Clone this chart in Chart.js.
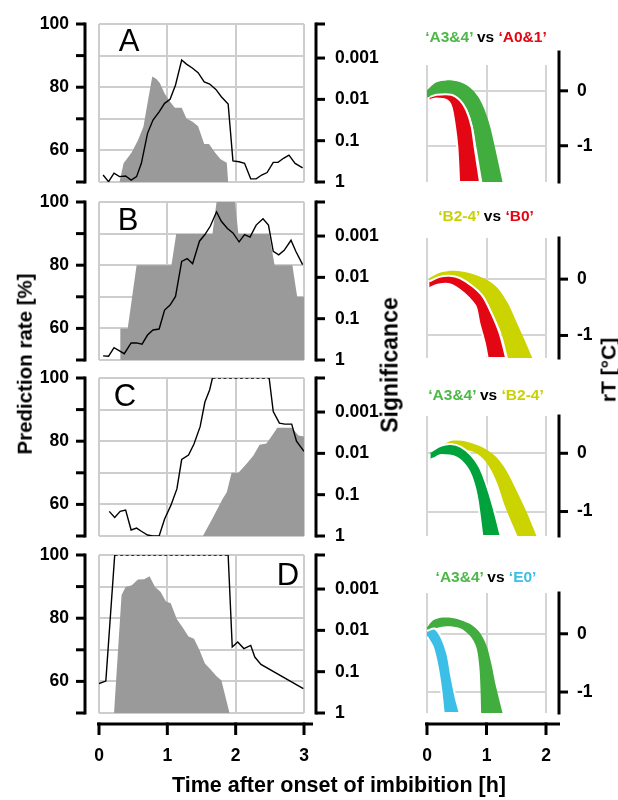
<!DOCTYPE html>
<html><head><meta charset="utf-8">
<script src="https://cdn.jsdelivr.net/npm/chart.js@4.4.1/dist/chart.umd.min.js"></script>
<style>
html,body{margin:0;padding:0;background:#fff;}
body{width:618px;height:800px;position:relative;overflow:hidden;font-family:'Liberation Sans',Arial,Helvetica,sans-serif;}
canvas{position:absolute;}
.t{position:absolute;white-space:nowrap;line-height:1;font-weight:bold;color:#000;transform:translate(-50%,-50%);}
.r{transform:translate(-50%,-50%) rotate(-90deg);}
.l{font-weight:normal;}
</style></head><body>
<script>
// ---------------- DATA ----------------
// Prediction rate [%] (black lines), time in h
const timeA = [0.06,0.14,0.22,0.30,0.39,0.47,0.55,0.62,0.71,0.79,0.88,0.96,1.04,1.12,1.21,1.28,1.37,1.45,1.54,1.62,1.71,1.79,1.89,1.96,2.05,2.13,2.22,2.30,2.38,2.46,2.55,2.62,2.70,2.78,2.87,2.98];
const rateA = [52.2,50.1,52.8,51.7,51.9,50.6,51.7,55.9,65.4,69.6,72.2,74.9,76.2,80.7,88.6,87.3,86.0,84.6,81.7,81.0,79.3,77.0,74.7,56.7,56.4,55.9,51.0,51.0,52.2,53.0,56.2,56.2,57.5,58.5,55.9,54.5];
const timeB = [0.06,0.14,0.22,0.30,0.37,0.47,0.55,0.63,0.71,0.79,0.88,0.96,1.04,1.12,1.21,1.29,1.37,1.47,1.55,1.63,1.72,1.79,1.88,1.96,2.05,2.13,2.21,2.30,2.40,2.48,2.55,2.63,2.71,2.81,2.88,2.98];
const rateB = [51.3,51.2,53.9,52.9,52.0,55.4,55.4,55.0,57.9,59.5,59.8,65.8,67.4,70.1,81.2,82.1,80.5,87.6,89.7,92.4,96.9,93.9,91.6,90.2,87.4,89.7,88.9,92.7,94.7,92.7,84.4,83.3,84.7,87.9,84.4,80.2];
const timeC = [0.15,0.23,0.31,0.39,0.47,0.55,0.62,0.71,0.79,0.88,0.96,1.05,1.14,1.21,1.31,1.39,1.48,1.55,1.62,1.66,2.49,2.55,2.64,2.72,2.82,2.89,3.00];
const rateC = [57.8,55.9,57.8,58.2,51.9,52.5,51.5,50.3,50,50,55.4,59.6,64.9,74.2,75.6,79.1,84.6,92.4,96.3,100,100,89.4,85.7,85.4,85.4,80.0,76.8];
const timeD = [0.00,0.10,0.23,1.89,1.95,2.03,2.12,2.22,2.28,2.37,2.99];
const rateD = [59.3,60.1,100,100,70.9,72.5,70.4,71.4,67.7,65.4,57.7];

// Significance (p-values, grey areas)
const sigTimeA = [0.30,0.36,0.48,0.57,0.65,0.72,0.78,0.84,0.89,0.96,1.04,1.11,1.21,1.28,1.37,1.45,1.54,1.61,1.70,1.78,1.87,1.89];
const sigA     = [1,0.35,0.19,0.098,0.046,0.010,0.0028,0.0032,0.004,0.0072,0.0115,0.016,0.016,0.029,0.035,0.045,0.12,0.12,0.195,0.28,0.34,1];
const sigTimeB = [0.31,0.31,0.42,0.55,1.06,1.13,1.66,1.72,1.99,2.04,2.49,2.57,2.83,2.90,3.00];
const sigB     = [1,0.174,0.174,0.0051,0.0051,0.00089,0.00089,0.00015,0.00015,0.00089,0.00089,0.0051,0.0051,0.0295,0.0295];
const sigTimeC = [1.52,1.67,1.81,1.87,1.94,2.04,2.16,2.26,2.35,2.45,2.50,2.61,2.82,2.92,3.00];
const sigC     = [1,0.35,0.126,0.087,0.0295,0.0295,0.0178,0.0112,0.0062,0.0058,0.0044,0.0024,0.0024,0.0037,0.0039];
const sigTimeD = [0.22,0.33,0.39,0.48,0.57,0.66,0.74,0.82,0.90,0.98,1.05,1.14,1.22,1.31,1.39,1.47,1.55,1.64,1.72,1.79,1.91];
const sigD     = [1,0.0014,0.00089,0.00081,0.00059,0.00058,0.00049,0.00089,0.00117,0.0020,0.0022,0.0054,0.0083,0.014,0.016,0.030,0.063,0.091,0.129,0.162,1];

// Tick values / labels
const timeTicks = [0,1,2,3];
const rateTicks = [50,60,70,80,90,100];
const rateLabelled = [60,80,100];
const sigTicks = [1,0.1,0.01,0.001];
const sigTickLabels = ['1','0.1','0.01','0.001'];
const rtTicks = [0,-1];
const rtTickLabels = ['0','-1'];
const rtTimeTicks = [0,1,2];

// rT [°C] bands (outline of each band: [time h, rT])
const bandA_A34 = [[0,0.01],[0.15,0.15],[0.33,0.19],[0.55,0.16],[0.72,0.06],[0.86,-0.11],[0.97,-0.35],[1.06,-0.65],[1.14,-1.02],[1.27,-1.66],[0.93,-1.66],[0.83,-1.02],[0.77,-0.65],[0.68,-0.35],[0.57,-0.17],[0.41,-0.07],[0.16,-0.07],[0,-0.12]];
const bandA_A01 = [[0.05,-0.11],[0.16,-0.07],[0.41,-0.07],[0.55,-0.17],[0.66,-0.35],[0.75,-0.65],[0.80,-1.02],[0.89,-1.66],[0.54,-1.66],[0.51,-1.02],[0.47,-0.65],[0.41,-0.29],[0.33,-0.17],[0.16,-0.14],[0.04,-0.17]];
const bandB_B24 = [[0.04,0.02],[0.24,0.12],[0.46,0.15],[0.71,0.11],[0.99,0.0],[1.19,-0.16],[1.36,-0.43],[1.50,-0.75],[1.64,-1.08],[1.77,-1.40],[1.36,-1.40],[1.25,-0.96],[1.10,-0.60],[0.96,-0.31],[0.79,-0.13],[0.56,0.02],[0.38,0.06],[0.21,0.04],[0.04,-0.04]];
const bandB_B0  = [[0.04,-0.04],[0.21,0.04],[0.38,0.06],[0.55,0.02],[0.77,-0.13],[0.94,-0.31],[1.08,-0.60],[1.22,-0.96],[1.33,-1.40],[1.02,-1.40],[0.97,-1.13],[0.88,-0.78],[0.82,-0.49],[0.71,-0.34],[0.55,-0.19],[0.38,-0.09],[0.18,-0.10],[0.04,-0.16]];
const bandC_B24 = [[0.22,0.11],[0.40,0.21],[0.66,0.20],[0.94,0.10],[1.16,-0.06],[1.33,-0.29],[1.50,-0.63],[1.67,-1.0],[1.84,-1.42],[1.52,-1.42],[1.31,-0.91],[1.19,-0.54],[1.08,-0.29],[0.94,-0.09],[0.77,0.03],[0.57,0.05],[0.22,0.02]];
const bandC_A34 = [[0.06,0.03],[0.23,0.13],[0.40,0.16],[0.57,0.11],[0.74,-0.03],[0.88,-0.23],[0.99,-0.51],[1.11,-0.91],[1.24,-1.42],[0.93,-1.42],[0.85,-0.80],[0.77,-0.46],[0.66,-0.23],[0.49,-0.07],[0.23,-0.03],[0.15,-0.07],[0.06,-0.11]];
const bandD_A34 = [[0,0.11],[0.10,0.23],[0.27,0.28],[0.49,0.26],[0.72,0.17],[0.88,0.03],[1.00,-0.20],[1.08,-0.51],[1.16,-0.91],[1.27,-1.36],[0.91,-1.36],[0.90,-0.97],[0.88,-0.57],[0.83,-0.23],[0.72,-0.03],[0.55,0.10],[0.33,0.13],[0.13,0.09],[0,0.03]];
const bandD_E0  = [[0,0.05],[0.13,0.09],[0.24,-0.06],[0.34,-0.34],[0.41,-0.74],[0.48,-1.09],[0.55,-1.36],[0.28,-1.36],[0.24,-0.97],[0.18,-0.57],[0.10,-0.23],[0,-0.05]];

const panelLetters = ['A','B','C','D'];
const comparisons = [
  [['‘A3&4’','#4db848'],[' vs ','#000'],['‘A0&1’','#e30613']],
  [['‘B2-4’','#c9d200'],[' vs ','#000'],['‘B0’','#e30613']],
  [['‘A3&4’','#4db848'],[' vs ','#000'],['‘B2-4’','#c9d200']],
  [['‘A3&4’','#4db848'],[' vs ','#000'],['‘E0’','#3cbfe6']]
];

// ---------------- RENDERING ----------------
const FONT = "'Liberation Sans', Arial, Helvetica, sans-serif";
Chart.defaults.font.family = FONT;
Chart.defaults.font.weight = 'bold';
Chart.defaults.font.size = 17.5;
Chart.defaults.color = '#000';
Chart.defaults.animation = false;

const zip = (xs, ys) => xs.map((x, i) => ({x: x, y: ys[i]}));
// band outline -> points; vertices lying on the panel's lower edge are doubled so the smoothed outline keeps a sharp cut there
const bandPts = (arr, minY) => arr.flatMap(p => {
  const o = {x: p[0], y: p[1]};
  return p[1] <= minY + 1e-9 ? [o, {x: p[0], y: p[1]}] : [o];
});
function noPad(s) { s.paddingTop = 0; s.paddingBottom = 0; s.paddingLeft = 0; s.paddingRight = 0; }

const spinePlugin = {
  id: 'spines',
  afterDraw(chart, args, opts) {
    const ctx = chart.ctx, ca = chart.chartArea;
    ctx.save();
    ctx.strokeStyle = '#000';
    ctx.lineWidth = 3;
    ctx.lineCap = 'butt';
    ctx.lineJoin = 'miter';
    (opts.list || []).forEach(s => {
      const sc = chart.scales[s.id];
      const tp = sc.ticks.map(t => sc.getPixelForValue(t.value));
      if (s.side === 'left' || s.side === 'right') {
        const dir = s.side === 'left' ? -1 : 1;
        const x = s.side === 'left' ? ca.left - s.offset : ca.right + s.offset;
        const y0 = ca.top - (s.extendTop || 0) - 1.5, y1 = ca.bottom + 1.5;
        ctx.beginPath(); ctx.moveTo(x, y0); ctx.lineTo(x, y1); ctx.stroke();
        const ys = tp.slice();
        if (s.bracketTop) ys.push(ca.top);
        ys.forEach(y => { ctx.beginPath(); ctx.moveTo(x, y); ctx.lineTo(x + dir * s.len, y); ctx.stroke(); });
      } else {
        const y = ca.bottom + s.offset;
        const x0 = sc.getPixelForValue(sc.min) - s.extL, x1 = sc.getPixelForValue(sc.max) + s.extR;
        ctx.beginPath(); ctx.moveTo(x0, y); ctx.lineTo(x1, y); ctx.stroke();
        tp.forEach(x => { ctx.beginPath(); ctx.moveTo(x, y - 1.5); ctx.lineTo(x, y + s.len); ctx.stroke(); });
      }
    });
    ctx.restore();
  }
};
Chart.register(spinePlugin);

function addCanvas(left, top, w, h) {
  const c = document.createElement('canvas');
  c.width = w; c.height = h;
  c.style.left = left + 'px'; c.style.top = top + 'px';
  c.style.width = w + 'px'; c.style.height = h + 'px';
  document.body.appendChild(c);
  return c;
}

const leftPanels = [
  {top: 24,  t: timeA, rate: rateA, st: sigTimeA, sp: sigA},
  {top: 202, t: timeB, rate: rateB, st: sigTimeB, sp: sigB},
  {top: 378, t: timeC, rate: rateC, st: sigTimeC, sp: sigC},
  {top: 555, t: timeD, rate: rateD, st: sigTimeD, sp: sigD, showX: true}
];
const PH = 158;
leftPanels.forEach(p => {
  const padTop = 12, padBot = p.showX ? 0 : 12, xH = p.showX ? 62 : 0;
  const cv = addCanvas(0, p.top - padTop, 380, padTop + PH + padBot + xH);
  const spines = [
    {id: 'y', side: 'left', offset: 14, len: 9},
    {id: 'y1', side: 'right', offset: 12, len: 9, bracketTop: true}
  ];
  if (p.showX) spines.push({id: 'x', side: 'bottom', offset: 11, len: 11, extL: 2, extR: 9});
  new Chart(cv, {
    type: 'line',
    data: {datasets: [
      {data: zip(p.t, p.rate), yAxisID: 'y', borderColor: '#000', borderWidth: 1.4, pointRadius: 0, tension: 0, fill: false,
       segment: {borderDash: c => (c.p0.parsed.y >= 100 && c.p1.parsed.y >= 100) ? [3, 2.5] : undefined}},
      {data: zip(p.st, p.sp), yAxisID: 'y1', backgroundColor: '#9a9a9a', borderColor: 'rgba(0,0,0,0)', borderWidth: 0.01,
       pointRadius: 0, tension: 0, fill: {value: 1}}
    ]},
    options: {
      responsive: false, animation: false, events: [],
      layout: {autoPadding: false, padding: {top: padTop, bottom: padBot, left: 0, right: 0}},
      plugins: {legend: {display: false}, tooltip: {enabled: false}, spines: {list: spines}},
      scales: {
        x: {type: 'linear', min: 0, max: 3, position: 'bottom',
            afterBuildTicks: s => { s.ticks = timeTicks.map(v => ({value: v})); },
            ticks: {display: !!p.showX, padding: 33, maxRotation: 0, autoSkip: false},
            grid: {color: '#cdcdcd', lineWidth: 2, drawTicks: false},
            border: {display: false},
            afterFit: s => { s.height = xH; noPad(s); }},
        y: {type: 'linear', position: 'left', min: 50, max: 100,
            afterBuildTicks: s => { s.ticks = rateTicks.map(v => ({value: v})); },
            ticks: {padding: 30, autoSkip: false, callback: v => rateLabelled.includes(v) ? String(v) : ''},
            grid: {color: '#cdcdcd', lineWidth: 2, drawTicks: false},
            border: {display: false},
            afterFit: s => { s.width = 99; noPad(s); }},
        y1: {type: 'logarithmic', position: 'right', reverse: true, min: 0.00015, max: 1,
            afterBuildTicks: s => { s.ticks = sigTicks.map(v => ({value: v})); },
            ticks: {padding: 31, autoSkip: false, callback: (v, i) => sigTickLabels[i]},
            grid: {drawOnChartArea: false, drawTicks: false},
            border: {display: false},
            afterFit: s => { s.width = 76; noPad(s); }}
      }
    }
  });
});

const rightPanels = [
  {top: 65,  bottom: 182, min: -1.66, max: 0.47, padTop: 20, extendTop: 13, front: [bandA_A01, '#e30613'], back: [bandA_A34, '#40ad3e']},
  {top: 238, bottom: 358, min: -1.40, max: 0.73, padTop: 12, extendTop: 0, front: [bandB_B0, '#e30613'], back: [bandB_B24, '#cbd300']},
  {top: 416, bottom: 536, min: -1.42, max: 0.64, padTop: 12, extendTop: 0, front: [bandC_A34, '#00a23c'], back: [bandC_B24, '#cbd300']},
  {top: 593, bottom: 713, min: -1.36, max: 0.70, padTop: 12, extendTop: 0, front: [bandD_E0, '#3cbfe6'], back: [bandD_A34, '#40ad3e'], showX: true}
];
rightPanels.forEach(p => {
  const padBot = p.showX ? 0 : 12, xH = p.showX ? 62 : 0;
  const cv = addCanvas(380, p.top - p.padTop, 238, p.padTop + (p.bottom - p.top) + padBot + xH);
  const spines = [{id: 'y', side: 'right', offset: 13, len: 9, extendTop: p.extendTop}];
  if (p.showX) spines.push({id: 'x', side: 'bottom', offset: 11, len: 11, extL: 2, extR: 14});
  new Chart(cv, {
    type: 'line',
    data: {datasets: [
      {data: bandPts(p.front[0], p.min), backgroundColor: p.front[1], borderColor: '#fff', borderWidth: 2, pointRadius: 0, tension: 0.3, fill: 'shape'},
      {data: bandPts(p.back[0], p.min), backgroundColor: p.back[1], borderColor: 'rgba(0,0,0,0)', borderWidth: 0.01, pointRadius: 0, tension: 0.3, fill: 'shape'}
    ]},
    options: {
      responsive: false, animation: false, events: [],
      layout: {autoPadding: false, padding: {top: p.padTop, bottom: padBot, left: 47, right: 0}},
      plugins: {legend: {display: false}, tooltip: {enabled: false}, spines: {list: spines}},
      scales: {
        x: {type: 'linear', min: 0, max: 2, position: 'bottom',
            afterBuildTicks: s => { s.ticks = rtTimeTicks.map(v => ({value: v})); },
            ticks: {display: !!p.showX, padding: 33, maxRotation: 0, autoSkip: false},
            grid: {color: '#d5d5d5', lineWidth: 2, drawTicks: false},
            border: {display: false},
            afterFit: s => { s.height = xH; noPad(s); }},
        y: {type: 'linear', position: 'right', min: p.min, max: p.max,
            afterBuildTicks: s => { s.ticks = rtTicks.map(v => ({value: v})); },
            ticks: {padding: 31, autoSkip: false, callback: (v, i) => rtTickLabels[i]},
            grid: {color: '#d5d5d5', lineWidth: 2, drawTicks: false},
            border: {display: false},
            afterFit: s => { s.width = 72; noPad(s); }}
      }
    }
  });
});

// ---------------- TEXT ----------------
function addText(html, x, y, size, cls) {
  const d = document.createElement('div');
  d.className = 't ' + (cls || '');
  d.style.left = x + 'px'; d.style.top = y + 'px'; d.style.fontSize = size + 'px';
  d.innerHTML = html;
  document.body.appendChild(d);
  return d;
}
const letterPos = [[129, 40], [128, 219], [125, 395], [288, 574]];
panelLetters.forEach((L, i) => addText(L, letterPos[i][0], letterPos[i][1], 31, 'l'));
const titleY = [37, 216, 395, 577];
comparisons.forEach((c, i) => {
  const d = addText('', 486, titleY[i], 15.5);
  c.forEach(part => {
    const s = document.createElement('span');
    s.textContent = part[0]; s.style.color = part[1];
    d.appendChild(s);
  });
});
addText('Prediction rate [%]', 25, 364, 20.5, 'r');
addText('Significance', 390, 365, 23, 'r');
addText('rT [°C]', 608, 370, 21, 'r');
addText('Time after onset of imbibition [h]', 339, 786, 21.5);
</script>
</body></html>
